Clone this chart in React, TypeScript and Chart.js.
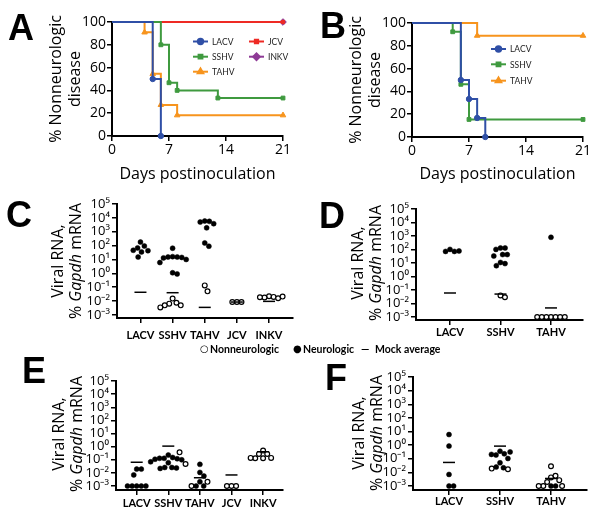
import React, { useEffect, useRef } from "react";
import { Chart, registerables } from "chart.js";
import { drawPoint } from "chart.js/helpers";

Chart.register(...registerables);

// ---------------- Data: survival curves (panels A, B) ----------------
const DAY_TICKS = [0, 7, 14, 21];
const PCT_TICKS = [0, 20, 40, 60, 80, 100];

const A_LACV_DAYS = [0, 5, 6];
const A_LACV_PCT = [100, 50, 0];
const A_SSHV_DAYS = [0, 6, 7, 8, 13, 21];
const A_SSHV_PCT = [100, 80, 46.7, 40, 33.3, 33.3];
const A_TAHV_DAYS = [0, 4, 5, 6, 8, 21];
const A_TAHV_PCT = [100, 90.9, 54.5, 27.3, 18.2, 18.2];
const A_JCV_DAYS = [0, 21];
const A_JCV_PCT = [100, 100];
const A_INKV_DAYS = [0, 21];
const A_INKV_PCT = [100, 100];

const B_LACV_DAYS = [0, 6, 7, 8, 9];
const B_LACV_PCT = [100, 50, 33.3, 16.7, 0];
const B_SSHV_DAYS = [0, 5, 6, 7, 21];
const B_SSHV_PCT = [100, 92.3, 46.2, 15.4, 15.4];
const B_TAHV_DAYS = [0, 8, 21];
const B_TAHV_PCT = [100, 88.9, 88.9];

// ---------------- Data: viral RNA (panels C-F) ----------------
const CATS_5 = ["LACV", "SSHV", "TAHV", "JCV", "INKV"];
const CATS_3 = ["LACV", "SSHV", "TAHV"];
const LOG_TICKS = [1e-3, 1e-2, 1e-1, 1, 1e1, 1e2, 1e3, 1e4, 1e5];

const C_NEURO = [
  [180, 93, 68, 46, 43, 35, 15],
  [65, 16, 15, 15, 14, 13, 10, 6, 1.1, 0.9],
  [5900, 5600, 5000, 3800, 1900, 155, 90],
  [],
  [],
];
const C_NONNEURO = [
  [],
  [0.015, 0.0076, 0.0065, 0.0049, 0.0049, 0.0035],
  [0.135, 0.05],
  [0.0085, 0.0085, 0.0085],
  [0.022, 0.02, 0.018, 0.016, 0.019, 0.021],
];
const C_MOCK = [0.043, 0.04, 0.0035, 0.0085, 0.0095];

const D_NEURO = [
  [102, 72, 72, 78],
  [130, 130, 102, 42, 42, 33, 11, 9, 6.3],
  [800],
];
const D_NONNEURO = [
  [],
  [0.04, 0.029],
  [0.001, 0.001, 0.001, 0.001, 0.001, 0.001, 0.001],
];
const D_MOCK = [0.06, 0.05, 0.0047];

const E_NEURO = [
  [0.0195, 0.0195, 0.0071, 0.001, 0.001, 0.001, 0.001, 0.001],
  [0.23, 0.15, 0.13, 0.13, 0.12, 0.11, 0.1, 0.07, 0.06, 0.026, 0.026, 0.024, 0.022],
  [0.045, 0.011, 0.0058, 0.0021, 0.001, 0.001],
  [],
  [],
];
const E_NONNEURO = [
  [],
  [0.37, 0.048],
  [0.0021, 0.001],
  [0.001, 0.001, 0.001],
  [0.5, 0.28, 0.28, 0.14, 0.13, 0.13, 0.14],
];
const E_MOCK = [0.065, 1.1, 0.0043, 0.007, 0.41];

const F_NEURO = [
  [6.0, 0.85, 0.0071, 0.001, 0.001],
  [0.36, 0.23, 0.19, 0.105, 0.21, 0.32, 0.051, 0.022, 0.025],
  [0.001, 0.001],
];
const F_NONNEURO = [
  [],
  [0.017, 0.019],
  [0.028, 0.0043, 0.0056, 0.002, 0.0027, 0.001, 0.001, 0.001],
];
const F_MOCK = [0.054, 0.85, 0.0036];

// ---------------- Styling ----------------
const SANS = '"Open Sans", "Liberation Sans", sans-serif';
const HUMANIST = 'Lato, "Open Sans", sans-serif';
const COLORS = {
  LACV: "#2f4fa6",
  SSHV: "#3f9a3f",
  TAHV: "#f7941d",
  JCV: "#ee2a24",
  INKV: "#8e3a96",
};

type Geo = { left: number; top: number; w: number; h: number; l: number; r: number; t: number; b: number };

const GEO_A: Geo = { left: 0, top: 0, w: 300, h: 190, l: 112, r: 283, t: 22, b: 136 };
const GEO_B: Geo = { left: 300, top: 0, w: 300, h: 190, l: 412, r: 583, t: 23, b: 137 };
const GEO_C: Geo = { left: 0, top: 190, w: 300, h: 165, l: 117, r: 293, t: 204, b: 318 };
const GEO_D: Geo = { left: 300, top: 190, w: 300, h: 165, l: 416, r: 583, t: 209, b: 320 };
const GEO_E: Geo = { left: 0, top: 360, w: 300, h: 168, l: 116, r: 283, t: 381, b: 490 };
const GEO_F: Geo = { left: 300, top: 360, w: 300, h: 168, l: 413, r: 587, t: 377, b: 490 };

const SUP: Record<string, string> = {
  "-": "\u207B", "0": "\u2070", "1": "\u00B9", "2": "\u00B2", "3": "\u00B3",
  "4": "\u2074", "5": "\u2075", "6": "\u2076", "7": "\u2077", "8": "\u2078", "9": "\u2079",
};
function pow10Label(v: number): string {
  const e = Math.round(Math.log10(v));
  return "10" + String(e).split("").map((c) => SUP[c]).join("");
}

function baseOptions(g: Geo) {
  return {
    responsive: false,
    animation: false as const,
    events: [] as any[],
    devicePixelRatio: 1,
    layout: { padding: { left: 0, top: g.t - g.top, right: g.left + g.w - g.r, bottom: 0 } },
    plugins: { legend: { display: false }, tooltip: { enabled: false } },
  };
}

const axisLines = {
  border: { display: true, color: "#000", width: 2 },
  grid: { display: true, drawOnChartArea: false, drawTicks: true, tickLength: 5, color: "#000", lineWidth: 1.5 },
};

// legend drawn inside the plot area of the survival charts
const kmLegend = {
  id: "kmLegend",
  afterDatasetsDraw(chart: any, _a: any, opts: any) {
    if (!opts || !opts.items) return;
    const ctx = chart.ctx;
    const { left, top } = chart.chartArea;
    ctx.save();
    for (const it of opts.items) {
      const ds = chart.data.datasets[it.index];
      const x = left + it.dx;
      const y = top + it.dy;
      ctx.strokeStyle = ds.borderColor;
      ctx.lineWidth = 2;
      ctx.beginPath();
      ctx.moveTo(x, y);
      ctx.lineTo(x + 15, y);
      ctx.stroke();
      ctx.fillStyle = ds.borderColor;
      drawPoint(ctx, { pointStyle: ds.pointStyle, radius: ds.legendRadius, borderWidth: 1, rotation: 0 } as any, x + 7.5, y);
      ctx.fillStyle = "#222";
      ctx.font = `8.5px ${HUMANIST}`;
      ctx.textBaseline = "middle";
      ctx.textAlign = "left";
      ctx.fillText(ds.label, x + 19, y + 0.5);
    }
    ctx.restore();
  },
};

type Series = { label: string; days: number[]; pct: number[]; color: string; marker: string; radius: number };

function survivalConfig(g: Geo, series: Series[], legendItems: any[]) {
  return {
    type: "line" as const,
    data: {
      datasets: series.map((s) => ({
        label: s.label,
        data: s.days.map((d, i) => ({ x: d, y: s.pct[i] })),
        borderColor: s.color,
        backgroundColor: s.color,
        pointBackgroundColor: s.color,
        pointBorderColor: s.color,
        borderWidth: 2,
        stepped: true,
        fill: false,
        clip: false,
        pointStyle: s.marker,
        legendRadius: s.radius,
        pointRadius: s.days.map((_, i) => (i === 0 ? 0 : s.radius)),
        pointBorderWidth: 1,
      })),
    },
    options: {
      ...baseOptions(g),
      plugins: {
        legend: { display: false },
        tooltip: { enabled: false },
        kmLegend: { items: legendItems },
      },
      scales: {
        x: {
          type: "linear",
          min: 0,
          max: 21,
          ...axisLines,
          afterBuildTicks: (s: any) => {
            s.ticks = DAY_TICKS.map((v) => ({ value: v }));
          },
          afterFit: (s: any) => {
            s.height = g.top + g.h - g.b;
          },
          ticks: { color: "#000", font: { family: SANS, size: 14 }, padding: 1, maxRotation: 0, autoSkip: false },
          title: {
            display: true,
            text: "Days postinoculation",
            color: "#000",
            font: { family: SANS, size: 16 },
            padding: { top: 0, bottom: 6 },
          },
        },
        y: {
          type: "linear",
          min: 0,
          max: 100,
          ...axisLines,
          afterBuildTicks: (s: any) => {
            s.ticks = PCT_TICKS.map((v) => ({ value: v }));
          },
          afterFit: (s: any) => {
            s.width = g.l - g.left;
          },
          ticks: { color: "#000", font: { family: SANS, size: 14 }, padding: 1 },
          title: {
            display: true,
            text: ["% Nonneurologic", "disease"],
            color: "#000",
            font: { family: SANS, size: 16 },
            padding: { top: 47, bottom: 0 },
          },
        },
      },
    },
    plugins: [kmLegend],
  };
}

// simple beeswarm with an elliptical footprint (sx horizontal, sy vertical, in px)
function swarm(ys: number[], sx: number, sy: number): number[] {
  const placed: { x: number; y: number }[] = [];
  const ok = (c: number, y: number) =>
    placed.every((p) => ((p.x - c) / sx) ** 2 + ((p.y - y) / sy) ** 2 >= 1 - 1e-6);
  return ys.map((y) => {
    const cands = [0];
    for (const p of placed) {
      const dy = Math.abs(p.y - y);
      if (dy < sy) {
        const dx = sx * Math.sqrt(1 - (dy / sy) ** 2);
        cands.push(p.x + dx, p.x - dx);
      }
    }
    cands.sort((a, b) => Math.abs(a) - Math.abs(b) || b - a);
    let chosen = 0;
    for (const c of cands) {
      if (ok(c, y)) {
        chosen = c;
        break;
      }
    }
    placed.push({ x: chosen, y });
    return chosen;
  });
}

function scatterConfig(
  g: Geo,
  cats: string[],
  neuro: number[][],
  non: number[][],
  mock: number[],
  xmin: number,
  xmax: number,
  ymin: number,
  labelPad: number
) {
  const pxDec = (g.b - g.t) / (5 - Math.log10(ymin));
  const pxCat = (g.r - g.l) / (xmax - xmin);
  const neuroPts: any[] = [];
  const nonPts: any[] = [];
  cats.forEach((_, i) => {
    const all = [
      ...neuro[i].map((v) => ({ v, n: true })),
      ...non[i].map((v) => ({ v, n: false })),
    ];
    const offs = swarm(all.map((p) => -Math.log10(p.v) * pxDec), 4.6, 7.5);
    all.forEach((p, k) => (p.n ? neuroPts : nonPts).push({ x: i + offs[k] / pxCat, y: p.v }));
  });
  return {
    type: "scatter" as const,
    data: {
      datasets: [
        {
          label: "Mock average",
          data: mock.map((v, i) => ({ x: i, y: v })),
          pointStyle: "line",
          pointRadius: 6,
          pointBorderWidth: 1.5,
          pointBorderColor: "#000",
          borderColor: "#000",
          showLine: false,
          clip: false,
        },
        {
          label: "Neurologic",
          data: neuroPts,
          pointStyle: "circle",
          pointRadius: 2.5,
          pointBorderWidth: 0.5,
          pointBackgroundColor: "#000",
          pointBorderColor: "#000",
          showLine: false,
          clip: false,
        },
        {
          label: "Nonneurologic",
          data: nonPts,
          pointStyle: "circle",
          pointRadius: 2.4,
          pointBorderWidth: 1.2,
          pointBackgroundColor: "#fff",
          pointBorderColor: "#000",
          showLine: false,
          clip: false,
        },
      ],
    },
    options: {
      ...baseOptions(g),
      scales: {
        x: {
          type: "linear",
          min: xmin,
          max: xmax,
          ...axisLines,
          afterBuildTicks: (s: any) => {
            s.ticks = cats.map((_, i) => ({ value: i }));
          },
          afterFit: (s: any) => {
            s.height = g.top + g.h - g.b;
          },
          ticks: {
            color: "#000",
            font: { family: HUMANIST, size: 11, weight: "bold" },
            padding: labelPad,
            maxRotation: 0,
            autoSkip: false,
            callback: (v: any) => cats[Math.round(Number(v))] ?? "",
          },
        },
        y: {
          type: "logarithmic",
          min: ymin,
          max: 1e5,
          ...axisLines,
          afterBuildTicks: (s: any) => {
            s.ticks = LOG_TICKS.map((v) => ({ value: v }));
          },
          afterFit: (s: any) => {
            s.width = g.l - g.left;
          },
          ticks: {
            color: "#000",
            font: { family: SANS, size: 13 },
            padding: 2,
            autoSkip: false,
            callback: (v: any) => pow10Label(Number(v)),
          },
        },
      },
    },
  };
}

function ChartCanvas({ geo, make }: { geo: Geo; make: () => any }) {
  const ref = useRef<HTMLCanvasElement>(null);
  useEffect(() => {
    if (!ref.current) return;
    const chart = new Chart(ref.current, make());
    return () => chart.destroy();
  }, []);
  return (
    <canvas
      ref={ref}
      width={geo.w}
      height={geo.h}
      style={{ position: "absolute", left: geo.left, top: geo.top, width: geo.w, height: geo.h }}
    />
  );
}

function PanelLetter({ text, x, y }: { text: string; x: number; y: number }) {
  return (
    <div
      style={{
        position: "absolute",
        left: x,
        top: y,
        fontFamily: '"Liberation Sans", Arial, sans-serif',
        fontWeight: "bold",
        fontSize: 36,
        lineHeight: "36px",
        color: "#000",
      }}
    >
      {text}
    </div>
  );
}

function RnaTitle({ cx, cy }: { cx: number; cy: number }) {
  const w = 160;
  const h = 36;
  return (
    <div
      style={{
        position: "absolute",
        left: cx - w / 2,
        top: cy - h / 2,
        width: w,
        height: h,
        transform: "rotate(-90deg)",
        textAlign: "center",
        fontFamily: SANS,
        fontSize: 16,
        lineHeight: "18px",
        color: "#000",
        whiteSpace: "nowrap",
      }}
    >
      <div>Viral RNA,</div>
      <div>
        % <i>Gapdh</i> mRNA
      </div>
    </div>
  );
}

export default function App() {
  const aSeries: Series[] = [
    { label: "LACV", days: A_LACV_DAYS, pct: A_LACV_PCT, color: COLORS.LACV, marker: "circle", radius: 2.7 },
    { label: "SSHV", days: A_SSHV_DAYS, pct: A_SSHV_PCT, color: COLORS.SSHV, marker: "rect", radius: 2.7 },
    { label: "TAHV", days: A_TAHV_DAYS, pct: A_TAHV_PCT, color: COLORS.TAHV, marker: "triangle", radius: 3.2 },
    { label: "JCV", days: A_JCV_DAYS, pct: A_JCV_PCT, color: COLORS.JCV, marker: "rect", radius: 2.3 },
    { label: "INKV", days: A_INKV_DAYS, pct: A_INKV_PCT, color: COLORS.INKV, marker: "rectRot", radius: 3.3 },
  ];
  const bSeries: Series[] = [
    { label: "LACV", days: B_LACV_DAYS, pct: B_LACV_PCT, color: COLORS.LACV, marker: "circle", radius: 2.7 },
    { label: "SSHV", days: B_SSHV_DAYS, pct: B_SSHV_PCT, color: COLORS.SSHV, marker: "rect", radius: 2.7 },
    { label: "TAHV", days: B_TAHV_DAYS, pct: B_TAHV_PCT, color: COLORS.TAHV, marker: "triangle", radius: 3.2 },
  ];
  const aLegend = [
    { index: 0, dx: 81, dy: 19.5 },
    { index: 1, dx: 81, dy: 34.7 },
    { index: 2, dx: 81, dy: 49.7 },
    { index: 3, dx: 137, dy: 19.5 },
    { index: 4, dx: 137, dy: 34.7 },
  ];
  const bLegend = [
    { index: 0, dx: 79, dy: 26 },
    { index: 1, dx: 79, dy: 41.3 },
    { index: 2, dx: 79, dy: 57.7 },
  ];

  const legendStyle: React.CSSProperties = {
    position: "absolute",
    top: 342,
    fontFamily: HUMANIST,
    fontWeight: "bold",
    fontSize: 10.5,
    lineHeight: "14px",
    color: "#000",
    whiteSpace: "nowrap",
  };

  return (
    <div style={{ position: "absolute", left: 0, top: 0, width: 600, height: 528, background: "#fff", overflow: "hidden" }}>
      <ChartCanvas geo={GEO_A} make={() => survivalConfig(GEO_A, aSeries, aLegend)} />
      <ChartCanvas geo={GEO_B} make={() => survivalConfig(GEO_B, bSeries, bLegend)} />
      <ChartCanvas geo={GEO_C} make={() => scatterConfig(GEO_C, CATS_5, C_NEURO, C_NONNEURO, C_MOCK, -0.73, 4.73, Math.pow(10, -3.216), 6)} />
      <ChartCanvas geo={GEO_D} make={() => scatterConfig(GEO_D, CATS_3, D_NEURO, D_NONNEURO, D_MOCK, -0.673, 2.634, Math.pow(10, -3.22), 1)} />
      <ChartCanvas geo={GEO_E} make={() => scatterConfig(GEO_E, CATS_5, E_NEURO, E_NONNEURO, E_MOCK, -0.655, 4.63, Math.pow(10, -3.3), 2)} />
      <ChartCanvas geo={GEO_F} make={() => scatterConfig(GEO_F, CATS_3, F_NEURO, F_NONNEURO, F_MOCK, -0.706, 2.706, Math.pow(10, -3.29), 0)} />

      <PanelLetter text="A" x={8} y={10} />
      <PanelLetter text="B" x={320} y={8} />
      <PanelLetter text="C" x={6} y={197} />
      <PanelLetter text="D" x={319} y={198} />
      <PanelLetter text="E" x={22} y={353} />
      <PanelLetter text="F" x={325} y={360} />

      <RnaTitle cx={66} cy={261} />
      <RnaTitle cx={365.5} cy={263} />
      <RnaTitle cx={66.5} cy={434} />
      <RnaTitle cx={366.5} cy={433} />

      <div style={{ ...legendStyle, left: 200, fontWeight: "normal", fontFamily: '"DejaVu Sans", sans-serif', fontSize: 10 }}>○</div>
      <div style={{ ...legendStyle, left: 210 }}>Nonneurologic</div>
      <div style={{ ...legendStyle, left: 293, fontWeight: "normal", fontFamily: '"DejaVu Sans", sans-serif', fontSize: 10 }}>●</div>
      <div style={{ ...legendStyle, left: 303 }}>Neurologic</div>
      <div style={{ ...legendStyle, left: 361 }}>—</div>
      <div style={{ ...legendStyle, left: 375 }}>Mock average</div>
    </div>
  );
}
